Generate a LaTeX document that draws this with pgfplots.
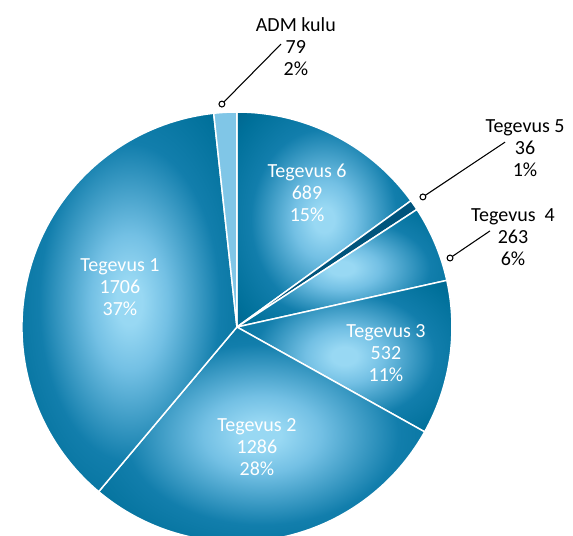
\documentclass[border=0pt]{standalone}
\usepackage{pgfplots}
\pgfplotsset{compat=1.18}
\usepackage{fontspec}
\setmainfont{Carlito}

\definecolor{pieL}{RGB}{152,216,243}
\definecolor{pieK}{RGB}{115,192,228}
\definecolor{pieM}{RGB}{18,126,172}
\definecolor{pieN}{RGB}{0,112,154}
\definecolor{pieD}{RGB}{0,84,124}
\definecolor{pieE}{RGB}{0,70,108}
\definecolor{admc}{RGB}{128,198,231}

\pgfdeclareradialshading{pieshade}{\pgfpoint{0bp}{0bp}}{%
  color(0bp)=(pieL); color(3bp)=(pieL); color(9bp)=(pieK); color(21bp)=(pieM);
  color(31bp)=(pieN); color(44bp)=(pieD); color(100bp)=(pieE)}

\tikzset{lbl/.style={font=\fontsize{15}{16.5}\selectfont, align=center, inner sep=0pt}}

% values, clockwise from 12 o'clock
\def\vT{689}   % Tegevus 6
\def\vF{36}    % Tegevus 5
\def\vV{263}   % Tegevus 4
\def\vK{532}   % Tegevus 3
\def\vB{1286}  % Tegevus 2
\def\vA{1706}  % Tegevus 1
\def\vD{79}    % ADM kulu

\begin{document}
\begin{tikzpicture}
\pgfmathsetmacro\tot{\vT+\vF+\vV+\vK+\vB+\vA+\vD}
\pgfmathsetmacro\aO{90}
\pgfmathsetmacro\aT{\aO-\vT/\tot*360}
\pgfmathsetmacro\aF{\aT-\vF/\tot*360}
\pgfmathsetmacro\aV{\aF-\vV/\tot*360}
\pgfmathsetmacro\aK{\aV-\vK/\tot*360}
\pgfmathsetmacro\aB{\aK-\vB/\tot*360}
\pgfmathsetmacro\aA{\aB-\vA/\tot*360}
\pgfmathsetmacro\aD{\aA-\vD/\tot*360}
\begin{axis}[
    axis lines=none,
    clip=true,
    scale only axis,
    width=429.75pt, height=402pt,
    xmin=-1.102, xmax=1.563,
    ymin=-0.972, ymax=1.521,
    samples=80,
]
% sectors
\addplot[draw=white, line width=1.1pt, shading=pieshade, domain=\aT:\aO] ({cos(x)},{sin(x)}) -- (axis cs:0,0) -- cycle;
\addplot[draw=white, line width=1.1pt, fill=pieD, domain=\aF:\aT] ({cos(x)},{sin(x)}) -- (axis cs:0,0) -- cycle;
\addplot[draw=white, line width=1.1pt, shading=pieshade, domain=\aV:\aF] ({cos(x)},{sin(x)}) -- (axis cs:0,0) -- cycle;
\addplot[draw=white, line width=1.1pt, shading=pieshade, domain=\aK:\aV] ({cos(x)},{sin(x)}) -- (axis cs:0,0) -- cycle;
\addplot[draw=white, line width=1.1pt, shading=pieshade, domain=\aB:\aK] ({cos(x)},{sin(x)}) -- (axis cs:0,0) -- cycle;
\addplot[draw=white, line width=1.1pt, shading=pieshade, domain=\aA:\aB] ({cos(x)},{sin(x)}) -- (axis cs:0,0) -- cycle;
\addplot[draw=white, line width=1.1pt, fill=admc, domain=\aD:\aA] ({cos(x)},{sin(x)}) -- (axis cs:0,0) -- cycle;

% leader lines
\addplot[black, line width=0.8pt, mark=*, mark indices={1}, mark size=2.2pt,
  mark options={fill=white, draw=black, line width=0.8pt}] coordinates {(-0.070,1.037) (0.205,1.316)};
\addplot[black, line width=0.8pt, mark=*, mark indices={1}, mark size=2.2pt,
  mark options={fill=white, draw=black, line width=0.8pt}] coordinates {(0.865,0.605) (1.247,0.860)};
\addplot[black, line width=0.8pt, mark=*, mark indices={1}, mark size=2.2pt,
  mark options={fill=white, draw=black, line width=0.8pt}] coordinates {(0.991,0.321) (1.177,0.447)};

% labels
\node[lbl, white] at (axis cs:0.326,0.623) {Tegevus 6\\689\\15\%};
\node[lbl, white] at (axis cs:-0.544,0.186) {Tegevus 1\\1706\\37\%};
\node[lbl, white] at (axis cs:0.093,-0.558) {Tegevus 2\\1286\\28\%};
\node[lbl, white] at (axis cs:0.693,-0.121) {Tegevus 3\\532\\11\%};
\node[lbl, black] at (axis cs:0.274,1.302) {ADM kulu\\79\\2\%};
\node[lbl, black] at (axis cs:1.340,0.833) {Tegevus 5\\36\\1\%};
\node[lbl, black] at (axis cs:1.284,0.419) {Tegevus\ \ 4\\263\\6\%};
\end{axis}
\pgfresetboundingbox
\path (current axis.south west) rectangle (current axis.north east);
\end{tikzpicture}
\end{document}
